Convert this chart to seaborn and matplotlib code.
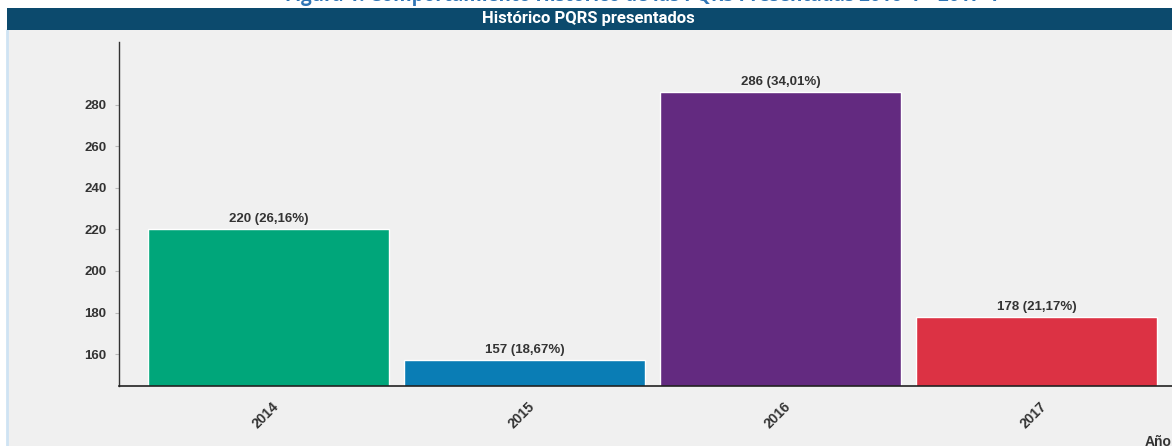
import matplotlib
matplotlib.use("Agg")
import matplotlib.pyplot as plt
import matplotlib.transforms as mtransforms
import pandas as pd
import seaborn as sns

years = ["2014", "2015", "2016", "2017"]
counts = [220, 157, 286, 178]
shares = ["26,16%", "18,67%", "34,01%", "21,17%"]
bar_colors = ["#00a67a", "#0a7db5", "#632a80", "#dc3244"]

df = pd.DataFrame({"year": years, "count": counts, "share": shares})

sns.set_theme(style="white")
plt.rcParams["font.family"] = ["Liberation Sans", "DejaVu Sans"]

fig = plt.figure(figsize=(11.72, 4.46), dpi=100)
fig.patch.set_facecolor("white")

# panel background + left border
fig.patches.append(plt.Rectangle((7 / 1172, 0), 1, 1 - 30 / 446, transform=fig.transFigure,
                                 facecolor="#f0f0f0", edgecolor="none", zorder=-10))
fig.lines.append(plt.Line2D([7 / 1172, 7 / 1172], [0, 1 - 30 / 446], transform=fig.transFigure,
                            color="#cfe3f3", lw=2, zorder=-5))
# header bar
fig.patches.append(plt.Rectangle((7 / 1172, 1 - 30 / 446), 1, 22 / 446, transform=fig.transFigure,
                                 facecolor="#0c4a6d", edgecolor="none", zorder=-5))
fig.text(588 / 1172, 1 - 18 / 446, "Histórico PQRS presentados", color="white", fontsize=12,
         fontweight="bold", ha="center", va="center",
         family=["Liberation Sans Narrow", "Roboto", "DejaVu Sans"])
# caption above, cut off by the top edge as in the source
fig.text(641 / 1172, 1.008, "Figura 1. Comportamiento Histórico de las PQRS Presentadas 2016 -I – 2017 -I",
         color="#2f75b5", fontsize=13.5, fontweight="bold", ha="center", va="center",
         family=["Open Sans", "DejaVu Sans"])

ax = fig.add_axes([119 / 1172, 1 - 386 / 446, 1 - 119 / 1172, (386 - 42) / 446])
ax.set_facecolor("none")

sns.barplot(data=df, x="year", y="count", hue="year", palette=bar_colors, width=0.94,
            legend=False, ax=ax, saturation=1)

for i, (c, s) in enumerate(zip(counts, shares)):
    ax.text(i, c + 2.0, f"{c} ({s})", ha="center", va="bottom", fontsize=9.5,
            fontweight="bold", color="#333333")

ax.set_xlim(-0.584, 3.529)
ax.set_ylim(144.6, 310.3)
ax.set_yticks([160, 180, 200, 220, 240, 260, 280])
ax.set_xlabel("")
ax.set_ylabel("")
ax.tick_params(axis="y", left=True, length=3, width=0.8, color="#bbbbbb", pad=6)
ax.tick_params(axis="x", bottom=False, pad=4)
for lab in ax.get_yticklabels():
    lab.set_fontweight("bold")
    lab.set_fontsize(9.5)
    lab.set_color("#333333")
shift = mtransforms.ScaledTranslation(3 / 100, 0, fig.dpi_scale_trans)
for lab in ax.get_xticklabels():
    lab.set_rotation(45)
    lab.set_rotation_mode("anchor")
    lab.set_fontweight("bold")
    lab.set_fontsize(10)
    lab.set_color("#333333")
    lab.set_ha("right")
    lab.set_va("top")
    lab.set_transform(lab.get_transform() + shift)

sns.despine(ax=ax, top=True, right=True)
ax.spines["left"].set_color("#333333")
ax.spines["left"].set_linewidth(1.0)
ax.spines["bottom"].set_color("#222222")
ax.spines["bottom"].set_linewidth(1.2)

fig.text(1158 / 1172, 1 - 442 / 446, "Año", fontsize=10, fontweight="bold", color="#333333",
         ha="center", va="center")

fig.savefig("out.png", dpi=100)
